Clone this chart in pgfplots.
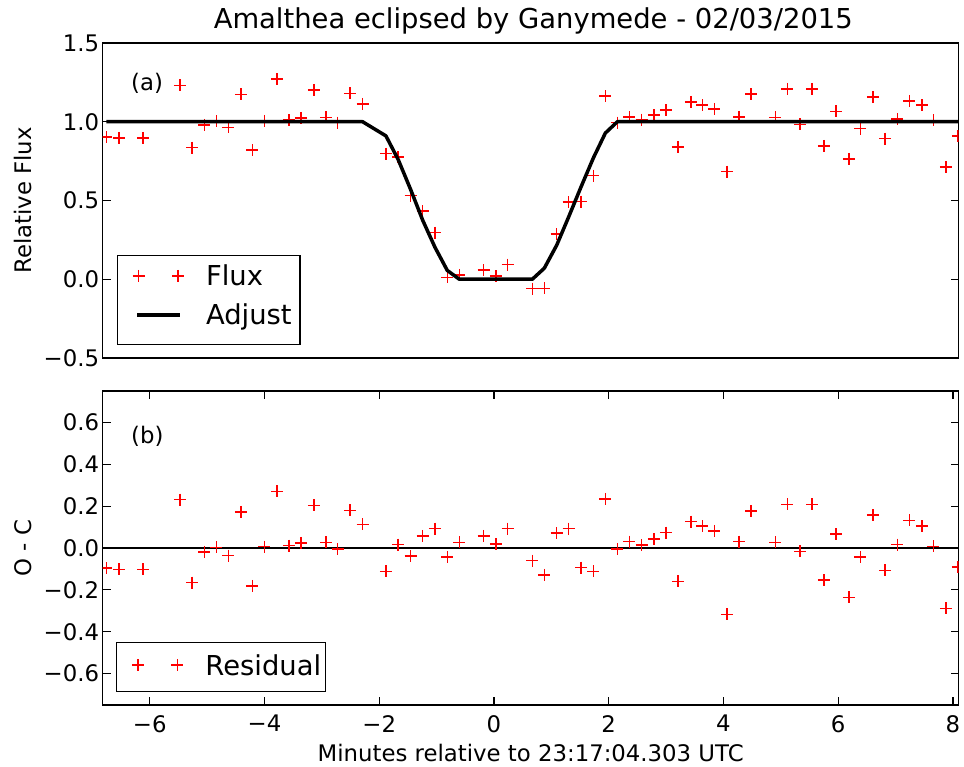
\documentclass[border=0pt]{standalone}
\usepackage{pgfplots}
\pgfplotsset{compat=1.18}
\usepackage{pgfplotstable}
\usepackage{fontspec}
\setmainfont{DejaVu Sans}

% observed flux and O-C residuals, minutes relative to 23:17:04.303 UTC
\pgfplotstableread{
t flux res
-6.754 0.904 -0.096
-6.533 0.898 -0.102
-6.115 0.898 -0.102
-5.475 1.231 0.231
-5.260 0.835 -0.165
-5.050 0.980 -0.020
-4.840 1.003 0.003
-4.630 0.964 -0.036
-4.410 1.173 0.173
-4.210 0.819 -0.181
-4.000 1.006 0.006
-3.780 1.271 0.271
-3.570 1.011 0.011
-3.365 1.024 0.024
-3.140 1.203 0.203
-2.930 1.027 0.027
-2.725 0.995 -0.005
-2.510 1.180 0.180
-2.290 1.113 0.113
-1.883 0.798 -0.112
-1.670 0.776 0.016
-1.453 0.531 -0.039
-1.243 0.433 0.058
-1.029 0.296 0.093
-0.814 0.012 -0.044
-0.605 0.027 0.027
-0.180 0.058 0.058
0.035 0.019 0.019
0.239 0.093 0.093
0.668 -0.060 -0.060
0.877 -0.058 -0.128
1.093 0.287 0.071
1.302 0.489 0.093
1.517 0.492 -0.094
1.732 0.658 -0.112
1.941 1.163 0.235
2.150 0.995 -0.005
2.360 1.030 0.030
2.575 1.014 0.014
2.785 1.042 0.042
2.994 1.074 0.074
3.203 0.841 -0.159
3.430 1.126 0.126
3.633 1.105 0.105
3.842 1.082 0.082
4.057 0.683 -0.317
4.272 1.031 0.031
4.481 1.176 0.176
4.905 1.027 0.027
5.114 1.208 0.208
5.336 0.984 -0.016
5.545 1.208 0.208
5.749 0.846 -0.154
5.963 1.066 0.066
6.185 0.764 -0.236
6.387 0.956 -0.044
6.603 1.157 0.157
6.818 0.893 -0.107
7.032 1.016 0.016
7.242 1.132 0.132
7.457 1.105 0.105
7.660 1.008 0.008
7.876 0.712 -0.288
8.085 0.909 -0.091
}\obs

% fitted light curve
\pgfplotstableread{
t model
-6.754 1.000
-2.290 1.000
-1.883 0.910
-1.670 0.760
-1.453 0.570
-1.243 0.375
-1.029 0.203
-0.814 0.056
-0.605 0.000
0.668 0.000
0.877 0.070
1.093 0.216
1.302 0.396
1.517 0.586
1.732 0.770
1.941 0.928
2.150 1.000
8.085 1.000
}\fit

\pgfplotsset{
  panel/.style={
    scale only axis, width=856pt,
    xmin=-6.82, xmax=8.10,
    axis line style={line width=1.3pt, black},
    tick style={line width=1.1pt, black},
    major tick length=8pt, tick align=inside,
    ticklabel style={font=\fontsize{22.8}{27}\selectfont},
    label style={font=\fontsize{22.8}{27}\selectfont},
    yticklabel style={inner sep=0pt, anchor=east, xshift=-3.4pt},
    xticklabel style={inner sep=0pt, anchor=north, yshift=-10pt},
    ylabel style={at={(axis description cs:-0.0832,0.5)}, anchor=base},
    clip marker paths=true,
    legend cell align=left,
  },
  mylegend/.style={
    draw=black, line width=1.5pt, fill=white,
    font=\fontsize{27.4}{33}\selectfont,
    nodes={inner sep=0pt, text height=20pt, text depth=0pt},
    column sep=22pt, row sep=19pt,
  },
  crosses/.style={only marks, mark=+, mark size=6pt, color=red, line width=1.5pt},
  % two crosses, as matplotlib draws them in a legend
  fluxleg/.style={legend image code/.code={\path (-11pt,0pt);
    \draw[mark repeat=1,mark phase=1,##1] plot coordinates {(0pt,0pt) (39.3pt,0pt)};}},
  lineleg/.style={legend image code/.code={\path (-11pt,-17pt);
    \draw[##1] (-1.7pt,0pt) -- (41.6pt,0pt);}},
  resleg/.style={legend image code/.code={\path (-16.2pt,-12.9pt);
    \draw[mark repeat=1,mark phase=1,##1] plot coordinates {(0pt,0pt) (39.3pt,0pt)};}},
}

\begin{document}
\begin{tikzpicture}
\useasboundingbox (0pt,0pt) rectangle (964pt,767pt);

\begin{axis}[panel,
  at={(102.7pt,409pt)}, anchor=south west,
  height=315pt,
  ymin=-0.5, ymax=1.5,
  xtick=\empty,
  ytick={-0.5,0,0.5,1,1.5},
  yticklabels={−0.5,0.0,0.5,1.0,1.5},
  ylabel={Relative Flux},
  title={Amalthea eclipsed by Ganymede - 02/03/2015},
  title style={font=\fontsize{27.4}{33}\selectfont, at={(0.503,1)}, anchor=base, yshift=8pt},
  legend style={mylegend, at={(axis description cs:0.0164,0.041)}, anchor=south west,
    inner xsep=8.5pt, inner ysep=10.6pt},
]
\addplot[crosses, fluxleg] table[x=t, y=flux] {\obs};
\addlegendentry{Flux}
\addplot[black, line width=3.5pt, line join=round, lineleg]
  table[x=t, y=model] {\fit};
\addlegendentry{Adjust}
\node[anchor=west, inner sep=0pt, font=\fontsize{22.8}{27}\selectfont]
  at (axis description cs:0.033,0.872) {(a)};
\end{axis}

\begin{axis}[panel,
  at={(102.7pt,62pt)}, anchor=south west,
  height=314pt,
  ymin=-0.75, ymax=0.75,
  xtick={-6,-4,-2,0,2,4,6,8},
  xticklabels={−6,−4,−2,0,2,4,6,8},
  ytick={-0.6,-0.4,-0.2,0,0.2,0.4,0.6},
  yticklabels={−0.6,−0.4,−0.2,0.0,0.2,0.4,0.6},
  ylabel={O - C},
  xlabel={Minutes relative to 23:17:04.303 UTC},
  xlabel style={at={(axis description cs:0.5,0)}, anchor=base, yshift=-57pt},
  legend style={mylegend, at={(axis description cs:0.0155,0.0404)}, anchor=south west,
    inner xsep=4.5pt, inner ysep=12.7pt},
]
\addplot[black, line width=1.3pt, forget plot] coordinates {(-7,0) (9,0)};
\addplot[crosses, resleg] table[x=t, y=res] {\obs};
\addlegendentry{Residual}
\node[anchor=west, inner sep=0pt, font=\fontsize{22.8}{27}\selectfont]
  at (axis description cs:0.033,0.857) {(b)};
\end{axis}
\end{tikzpicture}
\end{document}
